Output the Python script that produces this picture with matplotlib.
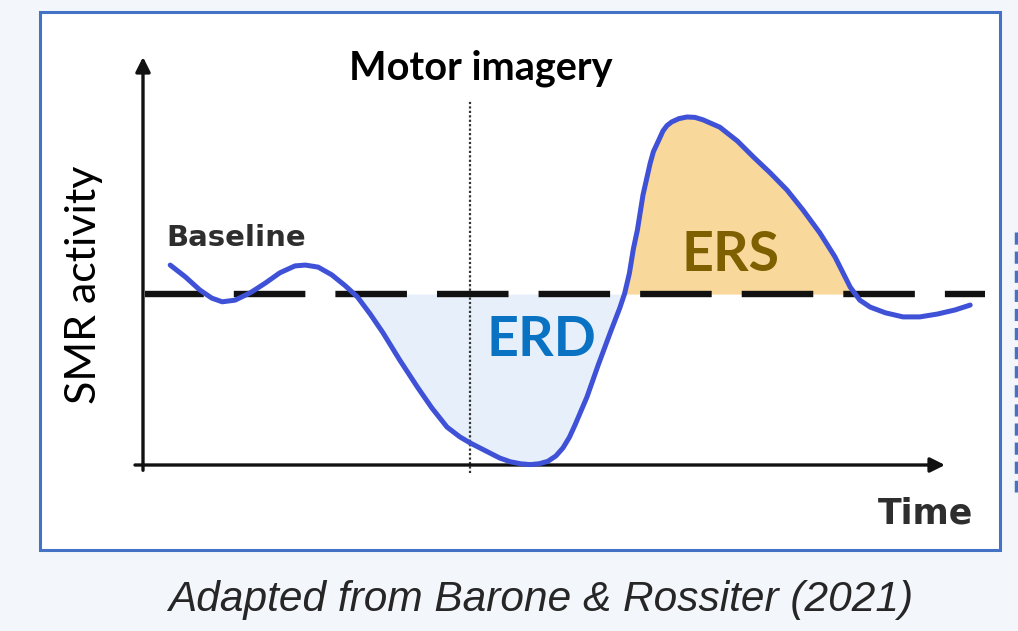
import matplotlib.pyplot as plt
from matplotlib.patches import Rectangle
from matplotlib.lines import Line2D

# time (arbitrary s) and SMR activity (arbitrary %)
time = [0.34, 0.53, 0.71, 0.86, 0.99, 1.15, 1.34, 1.53, 1.71, 1.90, 2.03, 2.19,
        2.36, 2.53, 2.68, 2.84, 3.00, 3.21, 3.43, 3.61, 3.80, 3.96, 4.09, 4.22,
        4.34, 4.46, 4.59, 4.72, 4.84, 4.95, 5.06, 5.16, 5.25, 5.33, 5.40, 5.55,
        5.69, 5.84, 5.96, 6.02, 6.08, 6.13, 6.18, 6.25, 6.34, 6.38, 6.43, 6.50,
        6.55, 6.61, 6.70, 6.80, 6.90, 7.00, 7.21, 7.43, 7.63, 7.84, 8.05, 8.25,
        8.46, 8.65, 8.84, 8.96, 9.09, 9.28, 9.50, 9.71, 9.93, 10.15, 10.34]
activity = [49.0, 46.1, 42.9, 40.9, 40.0, 40.4, 42.2, 44.6, 47.1, 48.8, 49.0, 48.5,
            46.6, 43.9, 41.2, 37.0, 32.4, 25.7, 19.1, 14.0, 9.3, 6.9, 5.4, 4.1,
            2.9, 1.7, 0.8, 0.3, 0.1, 0.3, 0.9, 2.2, 4.2, 6.8, 9.8, 16.7,
            24.5, 32.4, 38.5, 42.0, 47.0, 53.0, 57.6, 66.2, 74.0, 76.8, 78.9, 81.9,
            83.2, 84.1, 84.9, 85.3, 85.2, 84.6, 82.8, 79.4, 75.5, 71.6, 67.4, 62.5,
            56.9, 51.0, 43.6, 40.4, 38.7, 37.3, 36.3, 36.3, 37.0, 38.0, 39.2]
baseline = 41.9
onset = 4.09          # motor imagery onset
erd_window = (2.6, 6.1)
ers_window = (6.0, 9.0)

W, H = 1018, 631
def fx(px):
    return px / W
def fy(py):
    return 1 - py / H

fig = plt.figure(figsize=(W / 100, H / 100), dpi=100)
fig.patch.set_facecolor('#f3f6fb')

# white panel with blue frame
fig.patches.append(Rectangle((fx(40), fy(550)), fx(1000) - fx(40), fy(12) - fy(550),
                             transform=fig.transFigure, facecolor='white',
                             edgecolor='#4472c4', linewidth=2.2, zorder=-1))
# cut-off bit of the neighbouring panel at the right edge
fig.lines.append(Line2D([fx(1016), fx(1016)], [fy(232), fy(492)], transform=fig.transFigure,
                        color='#4472c4', linewidth=2.5, linestyle=(0, (3.5, 2)), zorder=-1))

ax = fig.add_axes([fx(143), fy(465), fx(945) - fx(143), fy(57) - fy(465)])
ax.set_xlim(0, 10.025)
ax.set_ylim(0, 100)
ax.axis('off')
ax.patch.set_alpha(0)

t_lo, t_hi = erd_window
ax.fill_between(time, activity, baseline,
                where=[(a < baseline) and (t_lo < t < t_hi) for t, a in zip(time, activity)],
                interpolate=True, color='#e7f0fa', linewidth=0, zorder=1)
t_lo, t_hi = ers_window
ax.fill_between(time, activity, baseline,
                where=[(a > baseline) and (t_lo < t < t_hi) for t, a in zip(time, activity)],
                interpolate=True, color='#f9d89c', linewidth=0, zorder=1)

# axes with arrows
ax.annotate('', xy=(0, 100), xytext=(0, -1.3), annotation_clip=False,
            arrowprops=dict(arrowstyle='-|>', lw=2.4, color='#111111', mutation_scale=22,
                            shrinkA=0, shrinkB=0))
ax.annotate('', xy=(10.025, 0), xytext=(-0.1, 0), annotation_clip=False,
            arrowprops=dict(arrowstyle='-|>', lw=2.4, color='#111111', mutation_scale=22,
                            shrinkA=0, shrinkB=0))

# motor imagery onset
ax.plot([onset, onset], [-2, 89.5], color='#333333', linewidth=1.6,
        linestyle=(0, (1.0, 1.0)), clip_on=False, zorder=2)

ax.plot([0.03, 10.53], [baseline, baseline], color='#111111', linewidth=4.6,
        linestyle=(2.0, (11.2, 4.7)), clip_on=False, zorder=3, solid_capstyle='butt',
        dash_capstyle='butt')
ax.plot(time, activity, color='#3f51d6', linewidth=3.6, clip_on=False, zorder=4,
        solid_capstyle='round', solid_joinstyle='round')

fig.text(fx(481), fy(68), 'Motor imagery', family='Lato', weight='bold', fontsize=28.5,
         color='black', ha='center', va='center')
fig.text(fx(236), fy(238), 'Baseline', family='DejaVu Sans', weight='bold', fontsize=21,
         color='#2e2e2e', ha='center', va='center')
fig.text(fx(541), fy(340), 'ERD', family='Lato', weight='bold', fontsize=40,
         color='#0a72c2', ha='center', va='center')
fig.text(fx(731), fy(255), 'ERS', family='Lato', weight='bold', fontsize=40,
         color='#7f6000', ha='center', va='center')
fig.text(fx(84), fy(285), 'SMR activity', family='Lato', fontsize=31,
         color='black', ha='center', va='center', rotation=90)
fig.text(fx(925), fy(513), 'Time', family='DejaVu Sans', weight='bold', fontsize=25,
         color='#2e2e2e', ha='center', va='center')
fig.text(fx(541), fy(600), 'Adapted from Barone & Rossiter (2021)', family='Liberation Sans',
         style='italic', fontsize=30.5, color='#262626', ha='center', va='center')

fig.savefig('out.png', dpi=100, facecolor=fig.get_facecolor())
